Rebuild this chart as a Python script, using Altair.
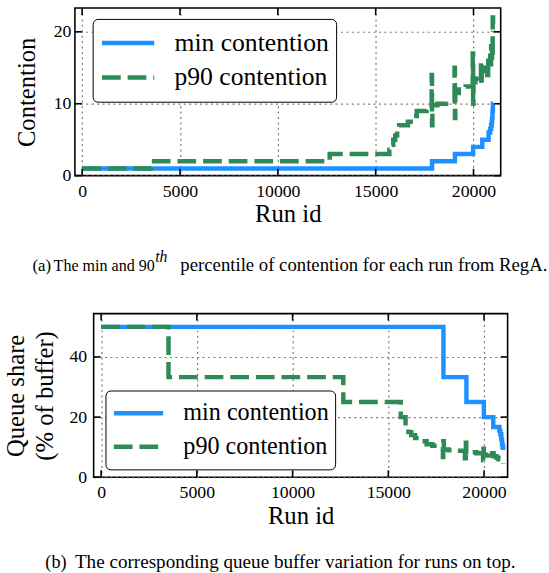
import altair as alt
import pandas as pd

# ---------------- data ----------------
series = ["min contention", "p90 contention"]
colors = ["#1E90FF", "#2E8B57"]

# (a) contention per run (step-wise, sorted runs)
top_min_run = [0, 17880, 19050, 19980, 20450, 20770, 20850, 20900, 20930, 20950, 20970, 20990, 21000]
top_min_val = [1, 2, 3, 4, 5, 6, 6.5, 7, 7.5, 8, 9, 10, 10]

top_p90_run = [0, 3520, 12650, 15700, 15800, 15900, 16000, 16100, 16200, 16650, 16950, 17100, 17600,
               17860, 17880, 17900, 18150, 18600, 19030, 19050, 19070, 19250, 19600, 19960, 19980,
               20000, 20100, 20250, 20380, 20400, 20420, 20550, 20700, 20750, 20850, 20900, 20950,
               20980, 21000]
top_p90_val = [1, 2, 3, 3.6, 4.3, 5, 5.6, 6.3, 7, 7.5, 8.3, 9, 9.3,
               14, 7, 9.8, 10, 10.3, 15, 8, 11.5, 12, 12.4, 17, 10,
               13, 14, 13.5, 16, 12.5, 14.5, 15, 14, 17, 15.5, 18, 16,
               22, 20]

# (b) queue share (% of buffer)
bot_min_run = [0, 17880, 19080, 19990, 20480, 20800, 20850, 20900, 20940, 20970, 21000]
bot_min_val = [50, 33.3, 25, 20, 16.7, 15.5, 14.3, 12.5, 11, 10, 9.1]

bot_p90_run = [0, 3520, 12650, 15650, 15900, 16050, 16200, 16400, 16600, 17000, 17300, 17800,
               17850, 17870, 17900, 18150, 18600, 19000, 19050, 19070, 19250, 19600, 19950,
               19970, 19990, 20100, 20300, 20400, 20420, 20500, 20650, 20750, 20850, 20950, 21000]
bot_p90_val = [50, 33.3, 25, 20, 16.5, 15, 14, 13, 12, 11, 10.5, 10,
               6.7, 12, 9.2, 9, 8.8, 6.3, 11.5, 7.7, 8.3, 8, 5.6,
               9.5, 7.5, 7.2, 6.5, 6, 8, 7, 6.5, 6, 5.8, 5, 4.5]

x_ticks = [0, 5000, 10000, 15000, 20000]
top_y_ticks = [0, 10, 20]
bot_y_ticks = [0, 20, 40]

FONT = "Liberation Serif, Times New Roman, serif"


def long_df(run_a, val_a, run_b, val_b):
    a = pd.DataFrame({"run": run_a, "val": val_a, "s": series[0]})
    b = pd.DataFrame({"run": run_b, "val": val_b, "s": series[1]})
    return pd.concat([a, b], ignore_index=True)


def panel(df, W, H, xdom, ydom, yticks, ytitle, ylabpad, ytitpad, leg, caption_parts, shift):
    xs = alt.Scale(domain=xdom, nice=False, zero=False)
    ys = alt.Scale(domain=ydom, nice=False, zero=False)
    common = dict(labelFont=FONT, labelFontSize=18, labelColor="black", titleFont=FONT,
                  titleFontSize=25, titleFontWeight="normal", titleColor="black", tickSize=0,
                  domain=False, grid=True, gridDash=[2, 3.5], gridColor="#777777", gridWidth=1.2)
    xaxis = alt.Axis(values=x_ticks, format="d", labelPadding=7, titlePadding=2, **common)
    yaxis = alt.Axis(values=yticks, format="d", labelPadding=ylabpad, titlePadding=ytitpad,
                     titleLineHeight=29, **common)
    legend = alt.Legend(orient="none", legendX=leg["x"], legendY=leg["y"], title=None,
                        symbolType="stroke", symbolSize=leg["sym"] ** 2, symbolStrokeWidth=4.5,
                        labelFont=FONT, labelFontSize=leg["fs"], labelOffset=18, labelColor="black",
                        padding=leg["pad"], rowPadding=0, clipHeight=leg["row"],
                        strokeColor="black", cornerRadius=5, fillColor="white", symbolOpacity=1)
    lines = alt.Chart(df).mark_line(interpolate="step-after", strokeWidth=4.5, strokeCap="butt").encode(
        x=alt.X("run:Q", scale=xs, title="Run id", axis=xaxis),
        y=alt.Y("val:Q", scale=ys, title=ytitle, axis=yaxis),
        color=alt.Color("s:N", scale=alt.Scale(domain=series, range=colors), legend=legend),
        strokeDash=alt.StrokeDash("s:N", scale=alt.Scale(domain=series, range=[[1, 0], [19, 7]]),
                                  legend=legend),
        order=alt.Order("run:Q"),
    )
    xt = pd.DataFrame({"run": x_ticks})
    yt = pd.DataFrame({"val": yticks})
    tl = 7
    X = alt.X("run:Q", scale=xs, title="Run id", axis=xaxis)
    Y = alt.Y("val:Q", scale=ys, title=ytitle, axis=yaxis)
    tick_layers = [
        alt.Chart(xt).mark_rule(color="black", strokeWidth=1.6).encode(
            x=X, y=alt.value(H), y2=alt.value(H - tl)),
        alt.Chart(xt).mark_rule(color="black", strokeWidth=1.6).encode(
            x=X, y=alt.value(0), y2=alt.value(tl)),
        alt.Chart(yt).mark_rule(color="black", strokeWidth=1.6).encode(
            y=Y, x=alt.value(0), x2=alt.value(tl)),
        alt.Chart(yt).mark_rule(color="black", strokeWidth=1.6).encode(
            y=Y, x=alt.value(W - tl), x2=alt.value(W)),
    ]
    caps = []
    for txt, x, y, align, size, style in caption_parts:
        caps.append(alt.Chart(pd.DataFrame({"t": [txt]})).mark_text(
            align=align, baseline="alphabetic", font=FONT, fontSize=size, fontStyle=style,
            color="black").encode(text="t:N", x=alt.value(x), y=alt.value(y)))
    # invisible anchor fixing the panel's outer bound (left / top)
    anchor = alt.Chart(pd.DataFrame({"t": [0]})).mark_rect(opacity=0).encode(
        x=alt.value(-shift[0]), x2=alt.value(-shift[0] + 1),
        y=alt.value(-shift[1]), y2=alt.value(-shift[1] + 1))
    return alt.layer(lines, *tick_layers, *caps, anchor).properties(width=W, height=H)


def spacer():
    return alt.Chart(pd.DataFrame({"t": [0]})).mark_rect(opacity=0).encode(
        x=alt.value(0), x2=alt.value(1), y=alt.value(0), y2=alt.value(1)
    ).properties(width=1, height=1, view=alt.ViewConfig(stroke="transparent"))


top_df = long_df(top_min_run, top_min_val, top_p90_run, top_p90_val)
bot_df = long_df(bot_min_run, bot_min_val, bot_p90_run, bot_p90_val)

top = panel(top_df, 432, 170, [-370, 21390], [0, 23.3], top_y_ticks, "Contention", 4, 14,
            dict(x=18, y=11, sym=53, fs=26, pad=7, row=35),
            [("(a)", -43, 267, "left", 17, "normal"),
             ("The min and 90", 81, 267, "right", 16.3, "normal"),
             ("th", 81.5, 258, "left", 16, "italic"),
             ("percentile of contention for each run from RegA.", 107, 267, "left", 19, "normal")],
            (72, 3))

bottom = panel(bot_df, 420, 166, [-390, 21230], [0, 54.4], bot_y_ticks, ["Queue share", "(% of buffer)"],
               7, 12, dict(x=12, y=78, sym=50, fs=24.5, pad=6, row=34),
               [("(b)", -49, 258, "left", 18.5, "normal"),
                ("The corresponding queue buffer variation for runs on top.", -19, 258, "left", 19.4,
                 "normal")],
               (91, 0))

row1 = alt.hconcat(spacer(), top, spacing=0).resolve_scale(
    x="independent", y="independent", color="independent", strokeDash="independent")
row2 = alt.hconcat(spacer(), bottom, spacing=0).resolve_scale(
    x="independent", y="independent", color="independent", strokeDash="independent")

chart = alt.vconcat(row1, row2, spacing=36).resolve_scale(
    x="independent", y="independent", color="independent", strokeDash="independent"
).resolve_legend(color="independent", strokeDash="independent").configure(
    font=FONT
).configure_view(stroke="black", strokeWidth=1.6).configure_axis(
    labelFont=FONT, labelFontSize=18, labelColor="black", titleFont=FONT, titleFontSize=25,
    titleFontWeight="normal", titleColor="black", tickSize=0, domain=False, grid=True,
    gridDash=[2, 3.5], gridColor="#777777", gridWidth=1.2
).configure_legend(labelFont=FONT).properties(
    background="white", padding={"left": 0, "top": 0, "right": 0, "bottom": 0}
)

chart.save("out.html", embed_options={"renderer": "svg", "actions": False})
